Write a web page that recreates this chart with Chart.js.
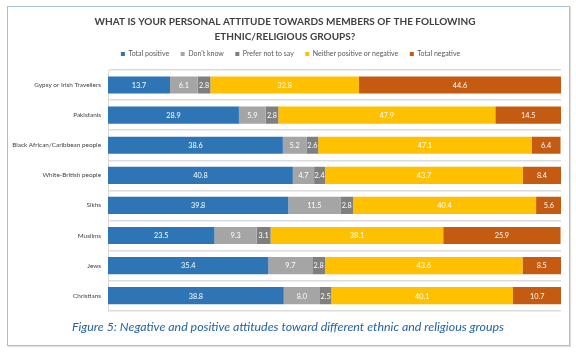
<!DOCTYPE html>
<html>
<head>
<meta charset="utf-8">
<script src="https://cdn.jsdelivr.net/npm/chart.js@4"></script>
<style>
  html, body { margin: 0; padding: 0; background: #fff; }
  #wrap { position: relative; width: 576px; height: 352px; }
  #frame {
    position: absolute; left: 7px; top: 6px; width: 561px; height: 338px;
    border: 1.5px solid #a7c0d6; box-shadow: 1px 1px 1px rgba(0,0,0,0.12);
  }
  canvas { position: absolute; left: 0; top: 0; }
</style>
</head>
<body>
<div id="wrap">
  <div id="frame"></div>
  <canvas id="attitudeChart" width="576" height="352"></canvas>
</div>
<script>
// ── Data ─────────────────────────────────────────────────────
const groups = ['Gypsy or Irish Travellers', 'Pakistanis', 'Black African/Caribbean people',
    'White-British people', 'Sikhs', 'Muslims', 'Jews', 'Christians'];
const seriesNames = ['Total positive', "Don't know", 'Prefer not to say',
    'Neither positive or negative', 'Total negative'];
const totalPositive = [13.7, 28.9, 38.6, 40.8, 39.8, 23.5, 35.4, 38.8];
const dontKnow = [6.1, 5.9, 5.2, 4.7, 11.5, 9.3, 9.7, 8.0];
const preferNotToSay = [2.8, 2.8, 2.6, 2.4, 2.8, 3.1, 2.8, 2.5];
const neitherPosNeg = [32.8, 47.9, 47.1, 43.7, 40.4, 38.1, 43.6, 40.1];
const totalNegative = [44.6, 14.5, 6.4, 8.4, 5.6, 25.9, 8.5, 10.7];
const seriesColors = ['#2E75B6', '#A5A5A5', '#7F7F7F', '#FFC000', '#C55A11'];

const FONT = 'Lato, "Open Sans", sans-serif';

// value labels in the middle of every segment
const valueLabels = {
    id: 'valueLabels',
    afterDatasetsDraw(chart) {
        const ctx = chart.ctx;
        ctx.save();
        ctx.font = '7.3px ' + FONT;
        ctx.fillStyle = '#ffffff';
        ctx.textAlign = 'center';
        ctx.textBaseline = 'middle';
        chart.data.datasets.forEach((ds, i) => {
            chart.getDatasetMeta(i).data.forEach((bar, j) => {
                ctx.fillText(ds.data[j].toFixed(1), (bar.x + bar.base) / 2, bar.y + 0.5);
            });
        });
        ctx.restore();
    }
};

// small position tweaks for the header / caption boxes
const headerNudge = {
    id: 'headerNudge',
    afterLayout(chart) {
        const move = (box, dx, dy) => {
            if (!box) return;
            box.left += dx; box.right += dx;
            box.top += dy; box.bottom += dy;
        };
        const caption = chart.boxes.find(b => b !== chart.titleBlock && b.options &&
            b.options.position === 'bottom' && b.options.text);
        move(chart.legend, 10, -2.5);
        move(chart.titleBlock, 4.5, 0);
        move(caption, 7.5, 0);
    }
};

const seriesData = [totalPositive, dontKnow, preferNotToSay, neitherPosNeg, totalNegative];

new Chart(document.getElementById('attitudeChart').getContext('2d'), {
    type: 'bar',
    data: {
        labels: groups,
        datasets: seriesNames.map((name, i) => ({
            label: name,
            data: seriesData[i],
            backgroundColor: seriesColors[i],
            borderWidth: 0,
            barPercentage: 0.57,
            categoryPercentage: 1
        }))
    },
    options: {
        indexAxis: 'y',
        responsive: false,
        animation: false,
        layout: {
            padding: { top: 10, right: 15, bottom: 8, left: 0 }
        },
        plugins: {
            title: {
                display: true,
                text: ['WHAT IS YOUR PERSONAL ATTITUDE TOWARDS MEMBERS OF THE FOLLOWING',
                    'ETHNIC/RELIGIOUS GROUPS?'],
                color: '#404040',
                font: { family: FONT, size: 10, weight: 'bold', lineHeight: 1.5 },
                padding: { top: 4.2, bottom: -2.7 }
            },
            legend: {
                position: 'top',
                labels: {
                    color: '#595959',
                    font: { family: FONT, size: 7 },
                    boxWidth: 4,
                    boxHeight: 4,
                    padding: 11.5
                }
            },
            subtitle: {
                display: true,
                position: 'bottom',
                text: 'Figure 5: Negative and positive attitudes toward different ethnic and religious groups',
                color: '#2563a6',
                font: { family: FONT, size: 12.4, style: 'italic', lineHeight: 1.2 },
                padding: { top: 8.6, bottom: 9.8 }
            },
            tooltip: { enabled: false }
        },
        scales: {
            x: {
                stacked: true,
                min: 0,
                max: 100,
                display: false
            },
            y: {
                stacked: true,
                offset: true,
                grid: {
                    offset: true,
                    color: '#dcdcdc',
                    lineWidth: 1.5,
                    drawTicks: false
                },
                border: { display: true, color: '#d9d9d9', width: 1 },
                ticks: {
                    color: '#404040',
                    font: { family: FONT, size: 6.4 },
                    padding: 7
                },
                afterFit(scale) { scale.width = 108; }
            }
        }
    },
    plugins: [valueLabels, headerNudge]
});
</script>
</body>
</html>
